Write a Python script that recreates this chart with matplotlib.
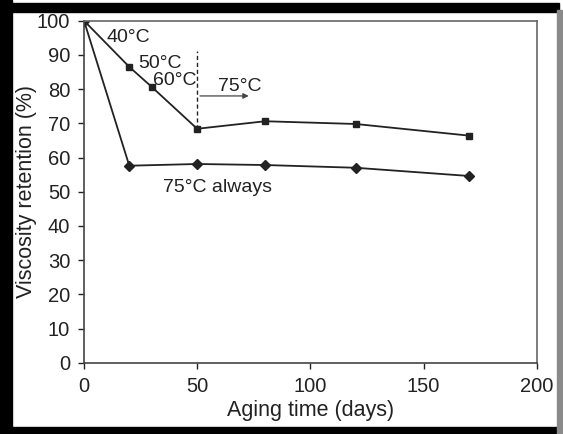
import matplotlib
matplotlib.use("Agg")
import matplotlib.pyplot as plt
from matplotlib.patches import Rectangle

plt.rcParams['font.family'] = ['Liberation Sans', 'DejaVu Sans']

# Data
days_stepped = [0, 20, 30, 50, 80, 120, 170]
ret_stepped = [100, 86.5, 80.6, 68.4, 70.6, 69.8, 66.4]
days_always = [0, 20, 50, 80, 120, 170]
ret_always = [100, 57.6, 58.1, 57.8, 57.0, 54.6]
xticks = [0, 50, 100, 150, 200]
yticks = [0, 10, 20, 30, 40, 50, 60, 70, 80, 90, 100]

fig = plt.figure(figsize=(5.63, 4.34), dpi=100)
ax = fig.add_axes([84/563, 1-362.7/434, (536.7-84)/563, (362.7-20.7)/434])

lc = '#222222'
ax.plot(days_stepped, ret_stepped, color=lc, lw=1.3, marker='s', ms=4.6, mfc=lc, mec=lc)
ax.plot(days_always, ret_always, color=lc, lw=1.3, marker='D', ms=4.6, mfc=lc, mec=lc)

# dashed vertical line and arrow
ax.plot([50, 50], [68.4, 91], color=lc, lw=1.0, ls=(0, (3, 2)))
ax.annotate('', xy=(74, 78), xytext=(50, 78),
            arrowprops=dict(arrowstyle='-|>', color='#444444', lw=0.9, mutation_scale=8))

fs = 14
ax.text(10, 95.0, '40°C', fontsize=fs, va='center', ha='left', color=lc)
ax.text(24, 87.6, '50°C', fontsize=fs, va='center', ha='left', color=lc)
ax.text(30.5, 82.6, '60°C', fontsize=fs, va='center', ha='left', color=lc)
ax.text(59, 80.8, '75°C', fontsize=fs, va='center', ha='left', color=lc)
ax.text(35, 51.3, '75°C always', fontsize=fs, va='center', ha='left', color=lc)

ax.set_xlim(0, 200)
ax.set_ylim(0, 100)
ax.set_xticks(xticks)
ax.set_yticks(yticks)
ax.tick_params(direction='out', length=4.5, width=1, labelsize=14.5, colors='#222222')
ax.tick_params(axis='x', pad=6)
ax.tick_params(axis='y', pad=5.5)
for s in ax.spines.values():
    s.set_color('#444444')
    s.set_linewidth(1.2)
ax.spines['top'].set_color('#666666')
ax.spines['right'].set_color('#666666')
ax.set_xlabel('Aging time (days)', fontsize=15.5, color='#222222', labelpad=2.5)
ax.set_ylabel('Viscosity retention (%)', fontsize=15.5, color='#222222', labelpad=0)

# border around the figure
fig.patches.append(Rectangle((0, 0), 12/563, 1, transform=fig.transFigure, color='black', zorder=10))
fig.patches.append(Rectangle((0, 1-12/434), 559/563, 9/434, transform=fig.transFigure, color='black', zorder=10))
fig.patches.append(Rectangle((0, 0), 559/563, 7/434, transform=fig.transFigure, color='black', zorder=10))
fig.patches.append(Rectangle((557/563, 0), 6/563, 1-10/434, transform=fig.transFigure, color='#8a8a8a', zorder=10))

fig.savefig('out.png', dpi=100)
